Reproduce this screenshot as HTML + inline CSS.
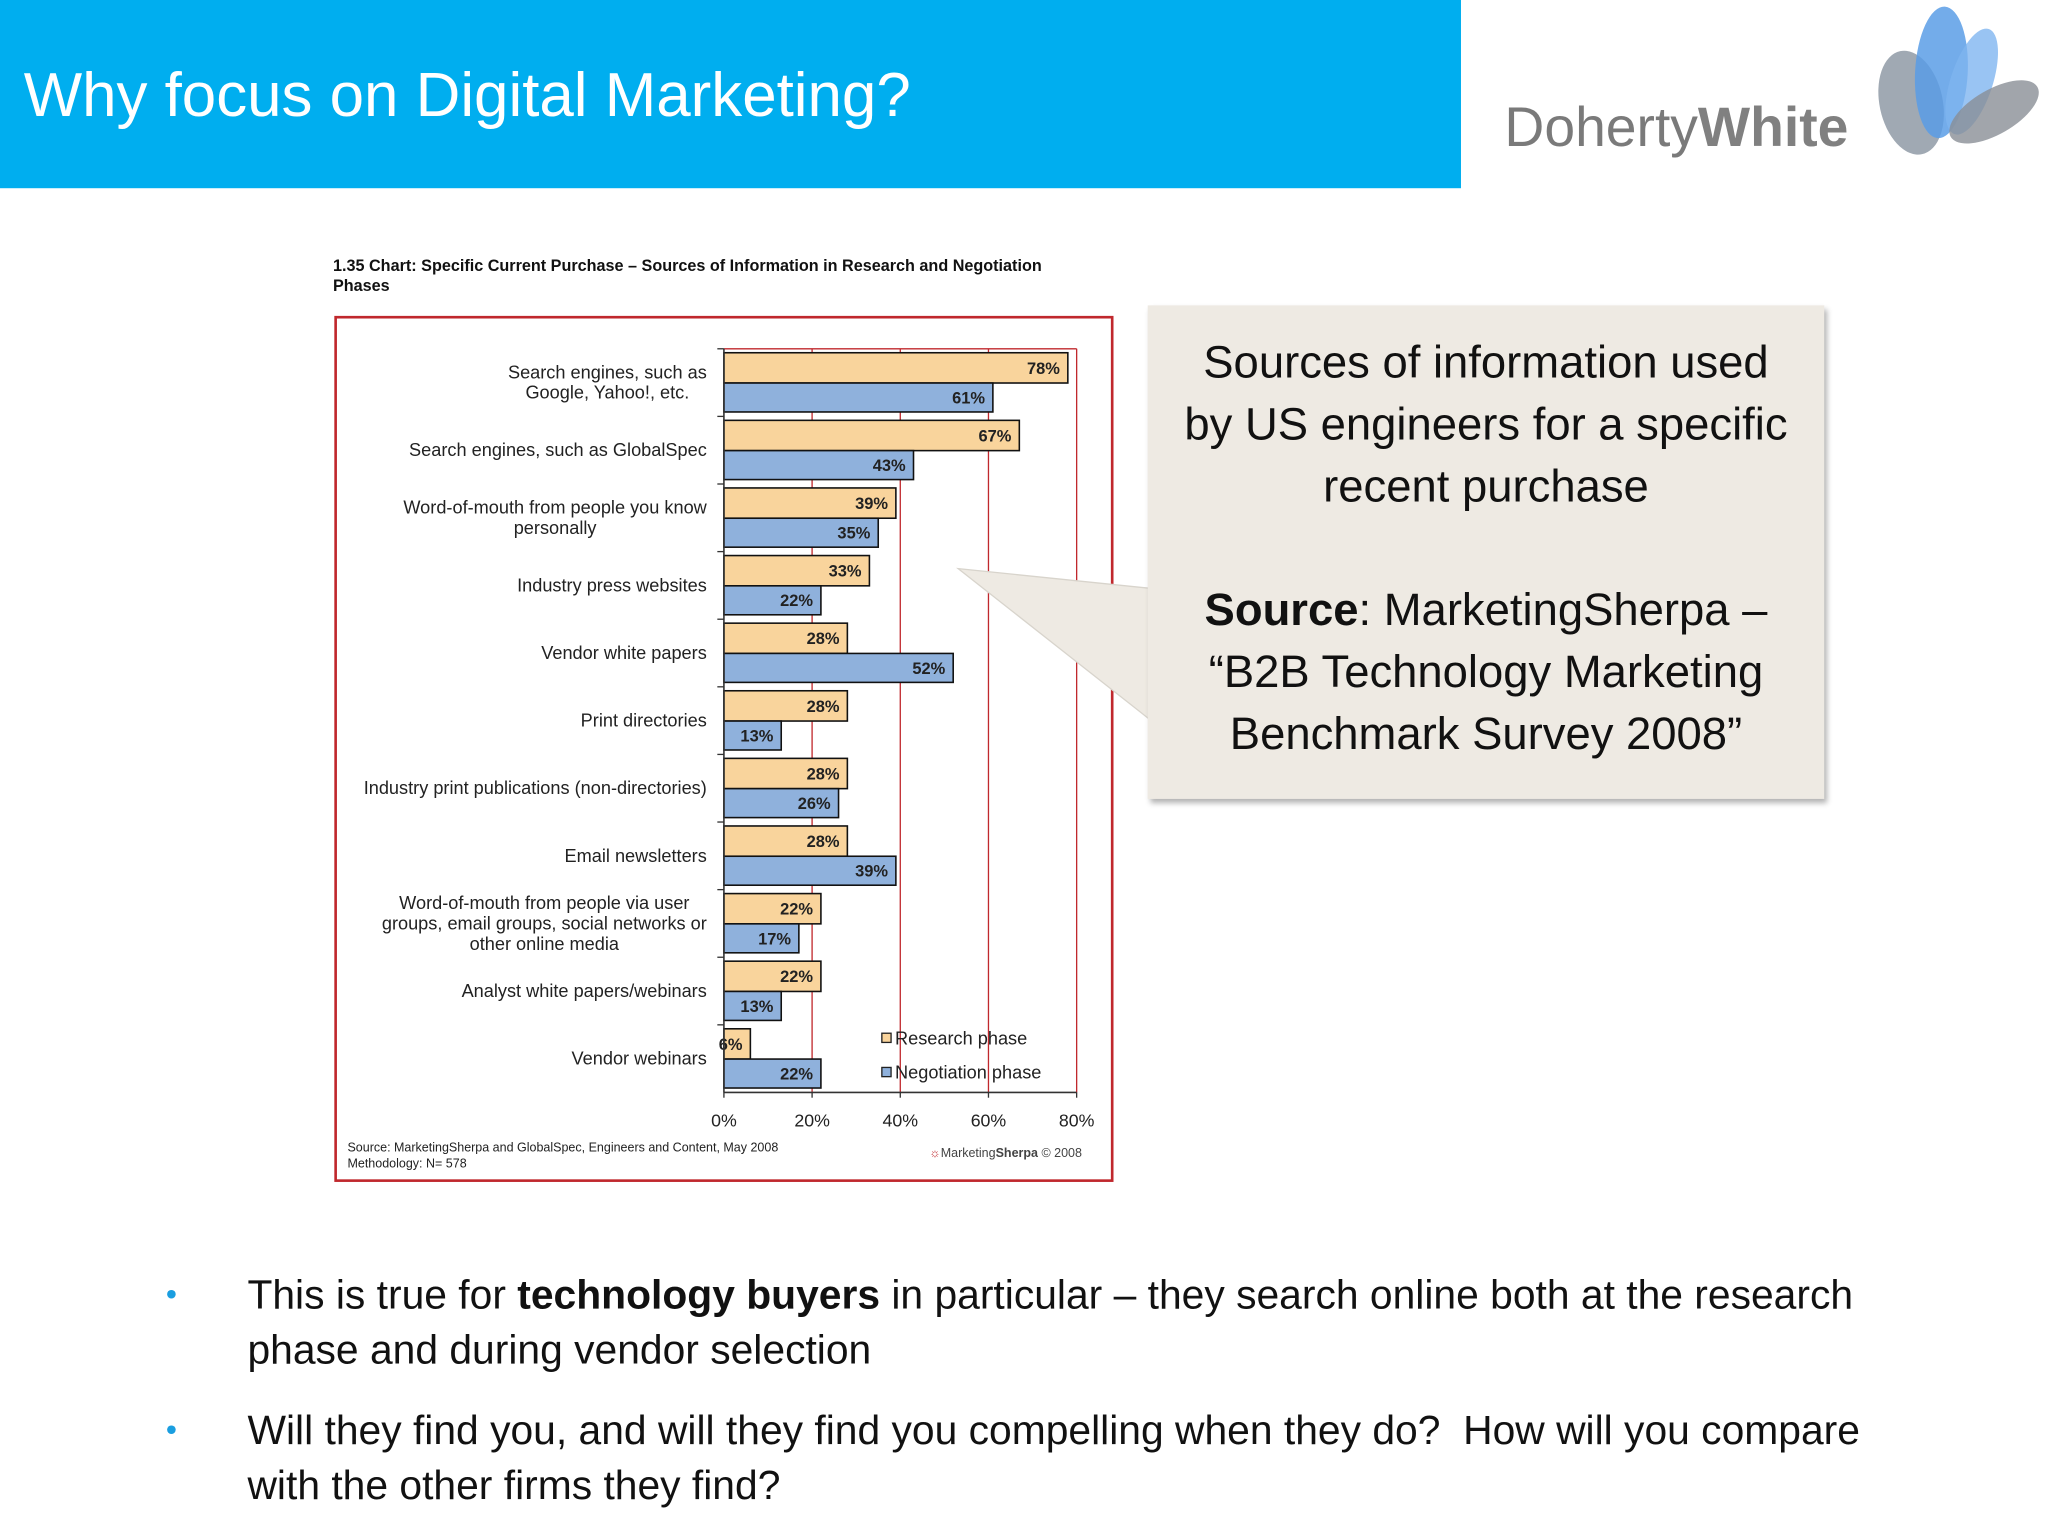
<!DOCTYPE html>
<html><head><meta charset="utf-8">
<style>
html,body{margin:0;padding:0;background:#fff;}
body{width:2048px;height:1536px;overflow:hidden;position:relative;}
#stage{position:absolute;left:0;top:0;width:1556px;height:1167px;transform:scale(1.31620);transform-origin:0 0;font-family:"Liberation Sans",sans-serif;}
.abs{position:absolute;}
</style></head>
<body>
<div id="stage">
  <div class="abs" style="left:0;top:0;width:1110px;height:143px;background:#00AEEF;"></div>
  <div class="abs" style="left:18px;top:44px;color:#fff;font-size:47px;white-space:nowrap;">Why focus on Digital Marketing?</div>

  <svg class="abs" style="left:1130px;top:0" width="426" height="140">
    <text x="13" y="111" font-family="Liberation Sans" font-size="42" fill="#7a7a7a">Doherty<tspan font-weight="bold" fill="#808080">White</tspan></text>
    <ellipse cx="322" cy="78" rx="24" ry="40" fill="#8f9aa6" opacity="0.85" transform="rotate(-12 322 78)"/>
    <ellipse cx="345" cy="55" rx="20" ry="50" fill="#5b9ee6" opacity="0.85" transform="rotate(3 345 55)"/>
    <ellipse cx="368" cy="62" rx="16" ry="42" fill="#7fb5f0" opacity="0.8" transform="rotate(18 368 62)"/>
    <ellipse cx="385" cy="85" rx="38" ry="17" fill="#8a8f96" opacity="0.8" transform="rotate(-30 385 85)"/>
  </svg>

  <div class="abs" style="left:253px;top:195px;font-size:12.3px;font-weight:bold;line-height:15px;color:#111;white-space:nowrap;">1.35 Chart: Specific Current Purchase – Sources of Information in Research and Negotiation<br>Phases</div>

  <svg id="chart" class="abs" style="left:0;top:0" width="1556" height="1167"></svg>

  <svg class="abs" style="left:0;top:0" width="1556" height="1167">
    <polygon points="874,447 728,432 874,547" fill="#EEEAE3" stroke="#d8d4cc" stroke-width="1"/>
  </svg>
  <div class="abs" style="left:872px;top:232px;width:514px;height:375px;background:#EEEAE3;box-shadow:2px 3px 4px rgba(0,0,0,0.3);text-align:center;font-size:34.5px;line-height:47px;color:#111;padding-top:21px;box-sizing:border-box;white-space:nowrap;">
    Sources of information used<br>by US engineers for a specific<br>recent purchase<br><br><b>Source</b>: MarketingSherpa –<br>“B2B Technology Marketing<br>Benchmark Survey 2008”
  </div>

  <div class="abs" style="left:126px;top:963px;font-size:31px;line-height:42px;color:#111;">
    <span class="abs" style="left:0;top:0;color:#1a9ee0;font-size:24px;">•</span>
    <div style="margin-left:62px;width:1262px;">This is true for <b>technology buyers</b> in particular – they search online both at the research phase and during vendor selection</div>
  </div>
  <div class="abs" style="left:126px;top:1066px;font-size:31px;line-height:42px;color:#111;">
    <span class="abs" style="left:0;top:0;color:#1a9ee0;font-size:24px;">•</span>
    <div style="margin-left:62px;width:1262px;">Will they find you, and will they find you compelling when they do?&nbsp; How will you compare with the other firms they find?</div>
  </div>
</div>

<script>
const categories = [
  ["Search engines, such as","Google, Yahoo!, etc."],
  ["Search engines, such as GlobalSpec"],
  ["Word-of-mouth from people you know","personally"],
  ["Industry press websites"],
  ["Vendor white papers"],
  ["Print directories"],
  ["Industry print publications (non-directories)"],
  ["Email newsletters"],
  ["Word-of-mouth from people via user","groups, email groups, social networks or","other online media"],
  ["Analyst white papers/webinars"],
  ["Vendor webinars"]
];
const researchValues = [78,67,39,33,28,28,28,28,22,22,6];
const negotiationValues = [61,43,35,22,52,13,26,39,17,13,22];
const tickValues = [0,20,40,60,80];
const tickLabels = ["0%","20%","40%","60%","80%"];

const NS="http://www.w3.org/2000/svg";
const svg=document.getElementById('chart');
const X0=550, X1=818, XMAX=80, YT=265, YB=830;
const xs=v=>X0+(X1-X0)*v/XMAX;
const band=(YB-YT)/categories.length;
function mk(tag,attrs,parent){const e=document.createElementNS(NS,tag);for(const k in attrs)e.setAttribute(k,attrs[k]);(parent||svg).appendChild(e);return e;}

const frame=mk('rect',{x:255,y:241,width:590,height:656,fill:'#fff',stroke:'#c0282d','stroke-width':2});



tickValues.forEach((t,i)=>{
  if(t>0){const g=mk('line',{x1:xs(t),x2:xs(t),y1:YT,y2:YB,stroke:'#c0282d','stroke-width':1});
  
  }
  const tk=mk('line',{x1:xs(t),x2:xs(t),y1:YB,y2:YB+4,stroke:'#333'});
  
  
  const lb=mk('text',{x:xs(t),y:856,'text-anchor':'middle','font-size':13.5,fill:'#222'});
  lb.textContent=tickLabels[i];
  
  
});
const tl=mk('line',{x1:X0,x2:X1,y1:YT,y2:YT,stroke:'#c0282d','stroke-width':1});



categories.forEach((lines,i)=>{
  const top=YT+band*i;
  const tk=mk('line',{x1:X0-5,x2:X0,y1:top,y2:top,stroke:'#333'});
  
  
  const bars=[[researchValues[i],'#F9D49C',top+3,23,'research'],[negotiationValues[i],'#8FB1DC',top+26,22,'negotiation']];
  bars.forEach(b=>{
    const r=mk('rect',{x:X0,y:b[2],width:xs(b[0])-X0,height:b[3],fill:b[1],stroke:'#111','stroke-width':1.2});
    
    
    const t=mk('text',{x:xs(b[0])-6,y:b[2]+b[3]/2+4.5,'text-anchor':'end','font-size':12.5,'font-weight':'bold',fill:'#222'});
    t.textContent=b[0]+'%';
    
    
  });
  const cy=top+band/2;
  const g=mk('g',{});
  
  
  const texts=lines.map((s,j)=>{const t=mk('text',{x:537,y:cy+4.5+(j-(lines.length-1)/2)*15.5,'text-anchor':'middle','font-size':13.8,fill:'#222'},g);t.textContent=s;return t;});
  let w=0;texts.forEach(t=>{w=Math.max(w,t.getComputedTextLength());});
  texts.forEach(t=>t.setAttribute('x',537-w/2));
});
const ax=mk('line',{x1:X0,x2:X0,y1:YT,y2:YB,stroke:'#333','stroke-width':1.2});


const axx=mk('line',{x1:X0,x2:X1,y1:YB,y2:YB,stroke:'#333','stroke-width':1.2});



[["Research phase",'#F9D49C',789],["Negotiation phase",'#8FB1DC',815]].forEach(l=>{
  const g=mk('g',{});
  
  
  mk('rect',{x:670,y:l[2]-4,width:7,height:7,fill:l[1],stroke:'#222','stroke-width':1},g);
  const t=mk('text',{x:680,y:l[2]+4.5,'font-size':13.8,fill:'#222'},g);t.textContent=l[0];
});
const s1=mk('text',{x:264,y:875,'font-size':9.5,fill:'#222'});s1.textContent="Source: MarketingSherpa and GlobalSpec, Engineers and Content, May 2008";


const s2=mk('text',{x:264,y:887,'font-size':9.5,fill:'#222'});s2.textContent="Methodology: N= 578";


const ms=mk('text',{x:706,y:879,'font-size':9.5,fill:'#444'});ms.innerHTML='<tspan fill="#c0282d">☼</tspan>Marketing<tspan font-weight="bold">Sherpa</tspan> © 2008';


</script>
</body></html>
